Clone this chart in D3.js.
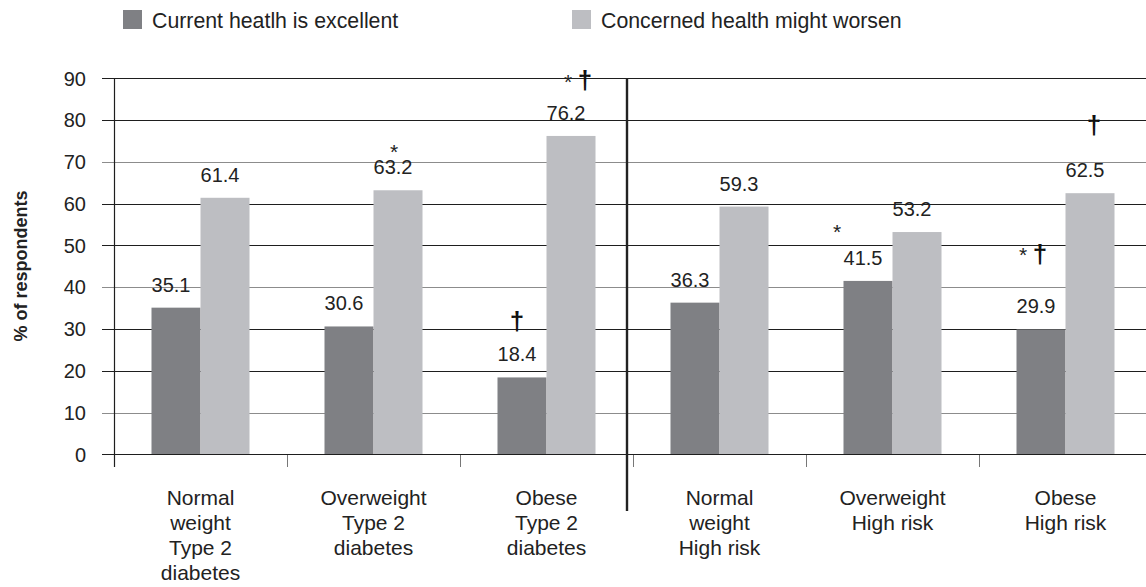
<!DOCTYPE html>
<html>
<head>
<meta charset="utf-8">
<script src="https://cdn.jsdelivr.net/npm/d3@7/dist/d3.min.js"></script>
<style>
  html, body { margin: 0; padding: 0; background: #fff; }
  svg { display: block; font-family: "Liberation Sans", Arial, sans-serif; }
</style>
</head>
<body>
<svg id="chart" width="1146" height="587"></svg>
<script>
// ---- data ----
const categories = [
  ["Normal", "weight", "Type 2", "diabetes"],
  ["Overweight", "Type 2", "diabetes"],
  ["Obese", "Type 2", "diabetes"],
  ["Normal", "weight", "High risk"],
  ["Overweight", "High risk"],
  ["Obese", "High risk"]
];
const seriesNames = ["Current heatlh is excellent", "Concerned health might worsen"];
const excellent = [35.1, 30.6, 18.4, 36.3, 41.5, 29.9];
const worsen = [61.4, 63.2, 76.2, 59.3, 53.2, 62.5];
const yTicks = [0, 10, 20, 30, 40, 50, 60, 70, 80, 90];
const yTitle = "% of respondents";
// significance marks: group index, series index, symbols
const sigMarks = [
  { group: 1, series: 1, symbols: ["*"] },
  { group: 2, series: 1, symbols: ["*", "†"] },
  { group: 2, series: 0, symbols: ["†"] },
  { group: 4, series: 0, symbols: ["*"] },
  { group: 5, series: 0, symbols: ["*", "†"] },
  { group: 5, series: 1, symbols: ["†"] }
];

// ---- layout ----
const colors = ["#7f8084", "#bdbec2"];
const W = 1146, H = 587;
const x0 = 114, step = 173, nCat = categories.length;
const svg = d3.select("#chart");

const x = d3.scaleBand().domain(d3.range(nCat)).range([x0, x0 + step * nCat])
  .paddingInner(0.4335).paddingOuter(0.4335 / 2);
const xs = d3.scaleBand().domain([0, 1]).range([0, x.bandwidth()]);
const y = d3.scaleLinear().domain([0, 90]).range([454.3, 78.3]);

// gridlines (extend left as ticks)
svg.append("g").selectAll("line").data(yTicks.filter(d => d > 0)).join("line")
  .attr("x1", 102).attr("x2", W)
  .attr("y1", d => Math.round(y(d)) + 0.5).attr("y2", d => Math.round(y(d)) + 0.5)
  .attr("stroke", d => (d % 30 === 10) ? "#8c8c8c" : "#1e1e1e").attr("stroke-width", 1);

// y tick labels
svg.append("g").selectAll("text").data(yTicks).join("text")
  .attr("x", 86).attr("y", d => y(d)).attr("dy", "0.36em")
  .attr("text-anchor", "end").attr("font-size", 20).attr("fill", "#222")
  .text(d => d);

// bars
const seriesVals = [excellent, worsen];
const barData = [];
seriesVals.forEach((vals, s) => vals.forEach((v, i) => barData.push({ i, s, v })));
const barCenter = d => x(d.i) + xs(d.s) + xs.bandwidth() / 2;

svg.append("g").selectAll("rect").data(barData).join("rect")
  .attr("x", d => x(d.i) + xs(d.s)).attr("width", xs.bandwidth())
  .attr("y", d => y(d.v)).attr("height", d => y(0) - y(d.v))
  .attr("fill", d => colors[d.s]);

// value labels
svg.append("g").selectAll("text").data(barData).join("text")
  .attr("x", d => barCenter(d) - 5).attr("y", d => y(d.v) - 16)
  .attr("text-anchor", "middle").attr("font-size", 20).attr("fill", "#222")
  .text(d => d.v.toFixed(1));

// axes lines
svg.append("line").attr("x1", 102).attr("x2", W).attr("y1", 454.5).attr("y2", 454.5)
  .attr("stroke", "#1e1e1e").attr("stroke-width", 1.2);
svg.append("line").attr("x1", x0 + 0.5).attr("x2", x0 + 0.5).attr("y1", 78).attr("y2", 467)
  .attr("stroke", "#1e1e1e").attr("stroke-width", 1.2);
// category ticks
svg.append("g").selectAll("line").data(d3.range(1, nCat)).join("line")
  .attr("x1", d => x0 + step * d + 0.5).attr("x2", d => x0 + step * d + 0.5)
  .attr("y1", 455).attr("y2", 467).attr("stroke", "#777").attr("stroke-width", 1);

// divider between diabetes and high-risk groups
svg.append("line").attr("x1", 627).attr("x2", 627).attr("y1", 78).attr("y2", 511)
  .attr("stroke", "#222").attr("stroke-width", 2.4);

// x category labels
const xl = svg.append("g").selectAll("text").data(categories).join("text")
  .attr("text-anchor", "middle").attr("font-size", 21).attr("fill", "#222");
xl.selectAll("tspan").data((d, i) => d.map(t => ({ t, i }))).join("tspan")
  .attr("x", d => x(d.i) + x.bandwidth() / 2)
  .attr("y", (d, j) => 505 + j * 25)
  .text(d => d.t);

// significance marks (offsets relative to bar centre / top)
const markLayout = [
  [{ dx: -4, k: 43 }],
  [{ dx: -3, k: 59 }, { dx: 14, k: 54 }],
  [{ dx: -5, k: 55 }],
  [{ dx: -31, k: 54 }],
  [{ dx: -18, k: 79 }, { dx: -1, k: 74 }],
  [{ dx: 4, k: 66 }]
];
const mg = svg.append("g");
sigMarks.forEach((m, mi) => {
  const d = { i: m.group, s: m.series, v: seriesVals[m.series][m.group] };
  m.symbols.forEach((sym, si) => {
    const lay = markLayout[mi][si];
    const cx = barCenter(d) + lay.dx;
    const cy = y(d.v) - lay.k;
    if (sym === "*") {
      mg.append("text").attr("x", cx).attr("y", cy + 0.57 * 21)
        .attr("text-anchor", "middle").attr("font-size", 21).attr("fill", "#222").text(sym);
    } else {
      mg.append("text").attr("x", cx).attr("y", cy + 0.28 * 26)
        .attr("text-anchor", "middle").attr("font-size", 26).attr("font-weight", "bold")
        .attr("fill", "#111").text(sym);
    }
  });
});

// legend
const legX = [123, 572];
const lg = svg.append("g").selectAll("g").data(seriesNames).join("g");
lg.append("rect").attr("x", (d, i) => legX[i]).attr("y", 10).attr("width", 19).attr("height", 19)
  .attr("fill", (d, i) => colors[i]);
lg.append("text").attr("x", (d, i) => legX[i] + 29).attr("y", 28)
  .attr("font-size", 21.3).attr("fill", "#222").text(d => d);

// y title
svg.append("text").attr("transform", "translate(27,266) rotate(-90)")
  .attr("text-anchor", "middle").attr("font-size", 18).attr("font-weight", "bold")
  .attr("fill", "#222").text(yTitle);
</script>
</body>
</html>
